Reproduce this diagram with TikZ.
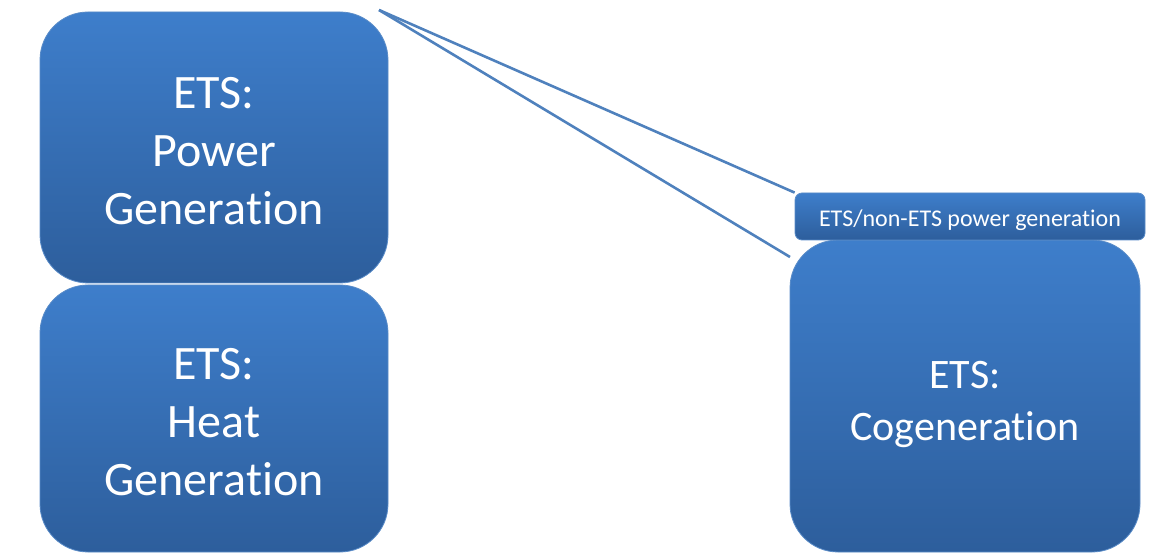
\documentclass[tikz,border=0pt]{standalone}
\usepackage{fontspec}
\setmainfont[Ligatures={NoCommon},RawFeature={-liga;-clig;-dlig;-calt}]{Carlito}
\definecolor{boxtop}{RGB}{62,126,203}
\definecolor{boxbot}{RGB}{45,94,156}
\definecolor{linkc}{RGB}{79,129,189}
\definecolor{edgec}{RGB}{90,140,200}
\newcommand{\mytopstrut}[1]{\rule{0pt}{#1}}
\tikzset{
  bigbox/.style={rectangle, rounded corners=48pt, top color=boxtop, bottom color=boxbot,
    draw=edgec, line width=0.8pt, text=white, align=center,
    font=\fontsize{48}{58}\selectfont, inner sep=0pt},
  labbox/.style={rectangle, rounded corners=7pt, top color=boxtop, bottom color=boxbot,
    draw=edgec, line width=0.8pt, text=white, align=center,
    font=\fontsize{24}{28}\selectfont, inner sep=0pt},
  link/.style={draw=linkc, line width=2.6pt}
}
\begin{document}
\begin{tikzpicture}[x=1pt,y=1pt]
\useasboundingbox (0,0) rectangle (1169,554);
\node[bigbox, minimum width=348pt, minimum height=271pt] (power) at (214,406.5) {\mytopstrut{38pt}ETS:\\Power\\Generation};
\node[bigbox, minimum width=348pt, minimum height=267pt] (heat) at (214,135.5) {\mytopstrut{39pt}ETS:\\Heat\\Generation};
\node[bigbox, minimum width=350pt, minimum height=312pt, font=\fontsize{42}{52}\selectfont] (cogen) at (965,158) {\mytopstrut{45pt}ETS:\\Cogeneration};
\node[labbox, minimum width=350pt, minimum height=47pt, text height=20pt, text depth=0pt] (lab) at (970,337.5) {ETS/non-ETS power generation};
\coordinate (src) at (379,544);
\coordinate (cogenin) at (790,297);
\draw[link] (src) -- (lab.north west);
\draw[link] (src) -- (cogenin);
\end{tikzpicture}
\end{document}
